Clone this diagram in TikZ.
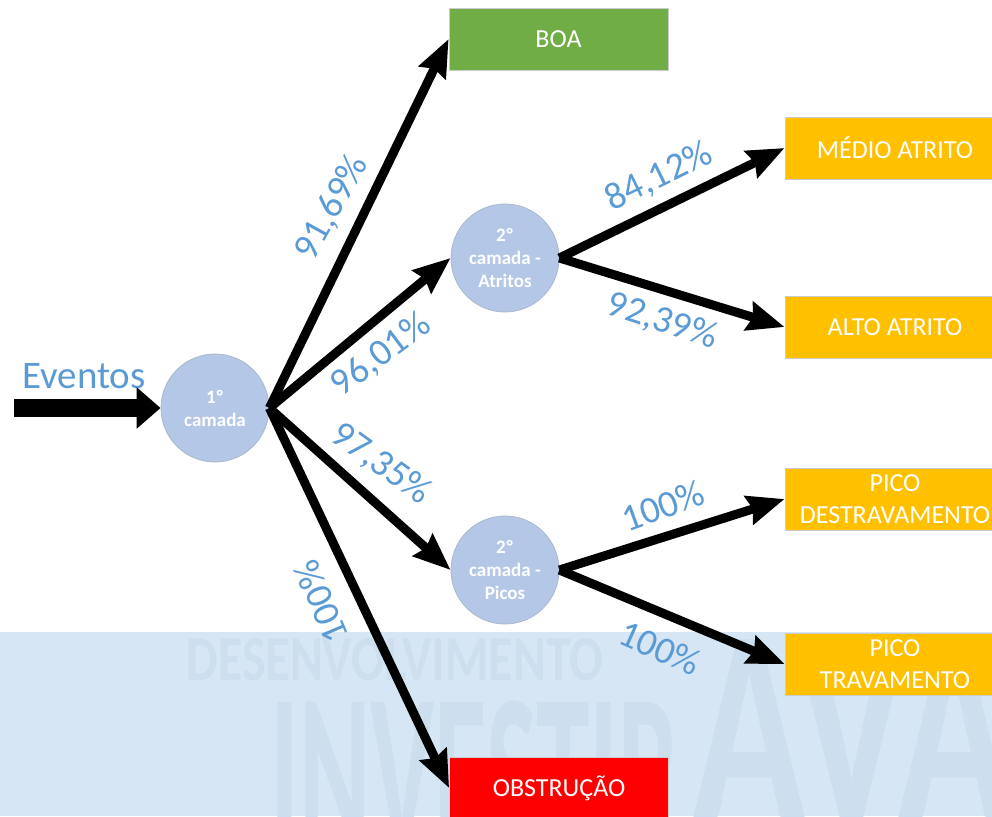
\documentclass[tikz,border=0pt]{standalone}
\usepackage{fontspec}
\setmainfont{Carlito}
\usetikzlibrary{arrows.meta, positioning}

\definecolor{layerblue}{HTML}{B4C7E7}
\definecolor{layeredge}{HTML}{A9B8CC}
\definecolor{pctblue}{HTML}{5B9BD5}
\definecolor{okgreen}{HTML}{70AD47}
\definecolor{warnyellow}{HTML}{FFC000}
\definecolor{failred}{HTML}{FF0000}
\definecolor{wmband}{HTML}{D7E6F4}
\definecolor{wmtext}{HTML}{CDDEEF}

\begin{document}
\begin{tikzpicture}[
  x = 1pt, y = -1pt,           % one unit per pixel, y pointing down
  > = {Stealth[length=37pt, width=29pt, inset=4pt]}, % arrow head style
  ]

  \tikzstyle{C1}=[      % Defines style for the layer circles
  circle,
  fill = layerblue,
  draw = layeredge, line width = 0.8pt,
  minimum size = 108pt,
  text = white, align = center,
  font = \fontsize{19}{23}\selectfont\bfseries
  ]

  \tikzstyle{B1}=[      % Defines style for the result boxes
  rectangle,
  draw = black!20, line width = 0.8pt,
  minimum width = 219pt, minimum height = 62pt,
  text = white, align = center,
  font = \fontsize{26}{32}\selectfont
  ]

  \tikzstyle{P1}=[      % Defines style for the percentages
  text = pctblue, inner sep = 0pt,
  font = \fontsize{38}{38}\selectfont
  ]

  \tikzstyle{A1}=[      % Defines style for the thick arrows
  ->, line width = 9pt
  ]

  \tikzstyle{W1}=[      % Defines style for the faded background text
  text = wmtext, inner sep = 0pt,
  font = \bfseries
  ]

  \useasboundingbox (0,0) rectangle (992,816);
  \clip (0,0) rectangle (992,816);

  % faded background band
  \fill[wmband] (0,632) rectangle (992,816);
  \node[W1, font=\fontsize{64}{64}\selectfont\bfseries] (wmdes) at (395,660)
    {\scalebox{0.78}[1]{DESENVOLVIMENTO}};
  \node[W1, font=\fontsize{230}{230}\selectfont\bfseries, anchor=north] (wminv) at (475,700)
    {\scalebox{0.47}[1]{INVESTIR}};
  \node[W1, font=\fontsize{280}{280}\selectfont\bfseries, anchor=north west] (wmava) at (692,640)
    {\scalebox{0.67}[1]{AVA}};

  % Definition of the nodes
  \node[C1] (c1) at (215,408) {1º\\camada};
  \node[C1] (c2) at (505,258) {2º\\camada -\\Atritos};
  \node[C1] (c3) at (505,570) {2º\\camada -\\Picos};

  \node[B1, fill=okgreen] (boa) at (558.5,39) {BOA};
  \node[B1, fill=failred] (obs) at (559,788) {OBSTRUÇÃO};
  \node[B1, fill=warnyellow, minimum width=220pt] (medio) at (895,148) {MÉDIO ATRITO};
  \node[B1, fill=warnyellow, minimum width=220pt] (alto) at (895,327) {ALTO ATRITO};
  \node[B1, fill=warnyellow, minimum width=220pt] (destr) at (895,499) {PICO\\DESTRAVAMENTO};
  \node[B1, fill=warnyellow, minimum width=220pt] (trav) at (895,664) {PICO\\TRAVAMENTO};

  % input
  \coordinate (evin) at (14,408);
  \node[text=pctblue, font=\fontsize{39}{39}\selectfont] (ev) at (84,376) {Eventos};
  \draw[line width=18pt, -{Triangle[length=24pt, width=40pt]}] (evin) -- (c1.west);

  % arrows
  \draw[A1] (c1.east) -- (boa.west);
  \draw[A1] (c1.east) -- (c2.west);
  \draw[A1] (c1.east) -- (c3.west);
  \draw[A1] (c1.east) -- (obs.west);
  \draw[A1] (c2.east) -- (medio.west);
  \draw[A1] (c2.east) -- (alto.west);
  \draw[A1] (c3.east) -- (destr.west);
  \draw[A1] (c3.east) -- (trav.west);

  % percentages
  \node[P1, rotate=61] (p91) at (332,208) {91,69\%};
  \node[P1, rotate=37] (p96) at (381,355) {96,01\%};
  \node[P1, rotate=-36] (p97) at (381,464) {97,35\%};
  \node[P1, rotate=113] (p100o) at (321,602) {100\%};
  \node[P1, rotate=26] (p84) at (659,177) {84,12\%};
  \node[P1, rotate=-18] (p92) at (662,321) {92,39\%};
  \node[P1, rotate=20] (p100d) at (663,506) {100\%};
  \node[P1, rotate=-24] (p100t) at (660,648) {100\%};
\end{tikzpicture}
\end{document}
